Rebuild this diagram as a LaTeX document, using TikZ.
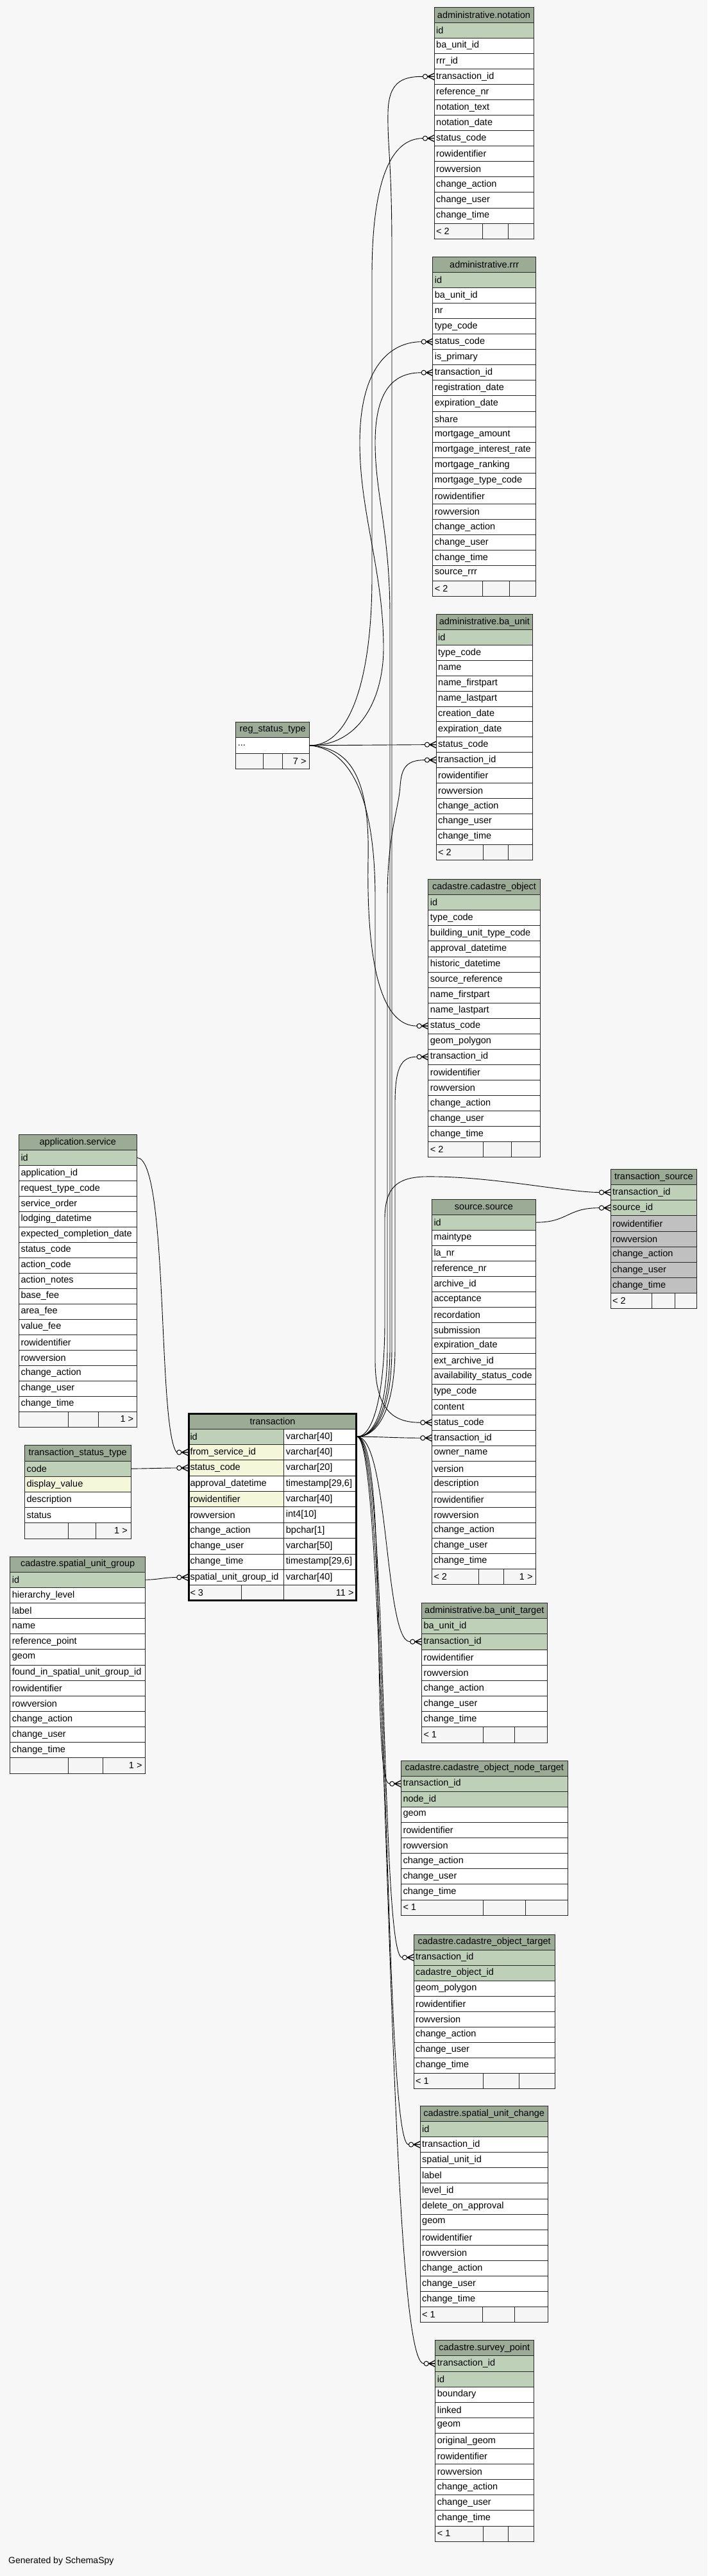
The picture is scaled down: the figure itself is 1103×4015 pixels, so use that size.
\documentclass[tikz,border=0pt]{standalone}
\usepackage{fontspec}
\setmainfont{Liberation Sans}
\definecolor{hd}{HTML}{9BAB96}
\definecolor{pk}{HTML}{BED1B8}
\definecolor{ix}{HTML}{F4F7DA}
\definecolor{ex}{HTML}{C0C0C0}
\definecolor{wt}{HTML}{FFFFFF}
\definecolor{bg}{HTML}{F7F7F7}
\definecolor{ft}{HTML}{F5F5F5}

% table head: name, left, top, width, row height, title
\newcommand\erdtable[6]{%
  \node[cell,fill=hd,minimum width=#4*1pt,minimum height=#5*1pt] (#1) at (#2,#3) {};
  \node (#1-title) at (#1.center) {#6};
  \xdef\erdn{#1}\xdef\erdx{#2}\xdef\erdy{#3}\xdef\erdw{#4}\xdef\erdh{#5}}
% column rows: text/fill
\newcommand\erdrows[1]{%
  \foreach \col/\kind [count=\i] in {#1}{%
    \node[cell,fill=\kind,minimum width=\erdw*1pt,minimum height=\erdh*1pt] (\erdn-\i) at (\erdx,\erdy+\i*\erdh) {};
    \node[txt] (\erdn-l\i) at (\erdn-\i.west) {\col};}}
% footer: row index, split 1, split 2, left text, right text
\newcommand\erdfoot[5]{%
  \draw[cellline,fill=ft] (\erdx,{\erdy+#1*\erdh}) rectangle (#2,{\erdy+(#1+1)*\erdh});
  \draw[cellline,fill=ft] (#2,{\erdy+#1*\erdh}) rectangle (#3,{\erdy+(#1+1)*\erdh});
  \draw[cellline,fill=ft] (#3,{\erdy+#1*\erdh}) rectangle ({\erdx+\erdw},{\erdy+(#1+1)*\erdh});
  \node[txt] (\erdn-fl) at (\erdx,{\erdy+(#1+.5)*\erdh}) {#4};
  \node[txt,anchor=east,inner xsep=5pt] (\erdn-fr) at ({\erdx+\erdw},{\erdy+(#1+.5)*\erdh}) {#5};}
% foreign key: parent anchor, child row, out, in
\newcommand\fk[4]{\draw[fkline] (#1) .. controls +(#3,0) and +(-#4,0) .. ([xshift=-18pt]#2.west); \pic at (#2.west) {crow};}

\begin{document}
\catcode`\_=12
\begin{tikzpicture}[x=1pt,y=-1pt,font=\fontsize{14.5}{17}\selectfont,
  cell/.style={draw=black!85,line width=0.8pt,anchor=north west,inner sep=0pt,outer sep=0pt},
  cellline/.style={draw=black!85,line width=0.8pt},
  txt/.style={anchor=west,inner xsep=3pt,inner ysep=0pt},
  fkline/.style={draw=black,line width=0.9pt},
  crow/.pic={\draw[line width=1.3pt] (-10,0) -- (0,-5) (-10,0) -- (0,5) (-18,0) -- (0,0);
    \draw[line width=1pt,fill=white] (-14,0) circle[radius=3.6pt];}]
\useasboundingbox (0,0) rectangle (1103,4015);
\fill[bg] (0,0) rectangle (1103,4015);

\erdtable{notation}{677}{11}{155}{24.07}{administrative.notation}
\erdrows{id/pk,ba_unit_id/wt,rrr_id/wt,transaction_id/wt,reference_nr/wt,notation_text/wt,notation_date/wt,status_code/wt,rowidentifier/wt,rowversion/wt,change_action/wt,change_user/wt,change_time/wt}
\erdfoot{14}{752}{792}{< 2}{}

\erdtable{rrr}{674.7}{400.4}{161}{24.05}{administrative.rrr}
\erdrows{id/pk,ba_unit_id/wt,nr/wt,type_code/wt,status_code/wt,is_primary/wt,transaction_id/wt,registration_date/wt,expiration_date/wt,share/wt,mortgage_amount/wt,mortgage_interest_rate/wt,mortgage_ranking/wt,mortgage_type_code/wt,rowidentifier/wt,rowversion/wt,change_action/wt,change_user/wt,change_time/wt,source_rrr/wt}
\erdfoot{21}{752.3}{794.3}{< 2}{}

\erdtable{baunit}{680}{957.5}{150.7}{23.9}{administrative.ba_unit}
\erdrows{id/pk,type_code/wt,name/wt,name_firstpart/wt,name_lastpart/wt,creation_date/wt,expiration_date/wt,status_code/wt,transaction_id/wt,rowidentifier/wt,rowversion/wt,change_action/wt,change_user/wt,change_time/wt}
\erdfoot{15}{753.3}{792.3}{< 2}{}

\erdtable{cadobj}{667.7}{1370.7}{174.6}{24.04}{cadastre.cadastre_object}
\erdrows{id/pk,type_code/wt,building_unit_type_code/wt,approval_datetime/wt,historic_datetime/wt,source_reference/wt,name_firstpart/wt,name_lastpart/wt,status_code/wt,geom_polygon/wt,transaction_id/wt,rowidentifier/wt,rowversion/wt,change_action/wt,change_user/wt,change_time/wt}
\erdfoot{17}{753}{797}{< 2}{}

\erdtable{regst}{367.7}{1125}{115}{24.55}{reg_status_type}
\erdrows{{.}{.}{.}/wt}
\erdfoot{2}{410.7}{440}{}{7 >}

\erdtable{service}{29.3}{1768.3}{184}{23.98}{application.service}
\erdrows{id/pk,application_id/wt,request_type_code/wt,service_order/wt,lodging_datetime/wt,expected_completion_date/wt,status_code/wt,action_code/wt,action_notes/wt,base_fee/wt,area_fee/wt,value_fee/wt,rowidentifier/wt,rowversion/wt,change_action/wt,change_user/wt,change_time/wt}
\erdfoot{18}{106.7}{153.3}{}{1 >}

\erdtable{tstatus}{38.3}{2252.8}{165.7}{24.2}{transaction_status_type}
\erdrows{code/pk,display_value/ix,description/wt,status/wt}
\erdfoot{5}{106.7}{149.3}{}{1 >}

\erdtable{sug}{15.7}{2426}{211}{24.14}{cadastre.spatial_unit_group}
\erdrows{id/pk,hierarchy_level/wt,label/wt,name/wt,reference_point/wt,geom/wt,found_in_spatial_unit_group_id/wt,rowidentifier/wt,rowversion/wt,change_action/wt,change_user/wt,change_time/wt}
\erdfoot{13}{106.7}{160}{}{1 >}

\erdtable{source}{673.3}{1869.2}{162.4}{24}{source.source}
\erdrows{id/pk,maintype/wt,la_nr/wt,reference_nr/wt,archive_id/wt,acceptance/wt,recordation/wt,submission/wt,expiration_date/wt,ext_archive_id/wt,availability_status_code/wt,type_code/wt,content/wt,status_code/wt,transaction_id/wt,owner_name/wt,version/wt,description/wt,rowidentifier/wt,rowversion/wt,change_action/wt,change_user/wt,change_time/wt}
\erdfoot{24}{746.7}{785.3}{< 2}{1 >}

\erdtable{tsource}{952}{1822.2}{134.7}{24.18}{transaction_source}
\erdrows{transaction_id/pk,source_id/pk,rowidentifier/ex,rowversion/ex,change_action/ex,change_user/ex,change_time/ex}
\erdfoot{8}{1016.7}{1052}{< 2}{}

\erdtable{but}{657.3}{2498.3}{196}{24.19}{administrative.ba_unit_target}
\erdrows{ba_unit_id/pk,transaction_id/pk,rowidentifier/wt,rowversion/wt,change_action/wt,change_user/wt,change_time/wt}
\erdfoot{8}{753.3}{802.7}{< 1}{}

\erdtable{cont}{625.3}{2744}{260}{24.1}{cadastre.cadastre_object_node_target}
\erdrows{transaction_id/pk,node_id/pk,geom/wt,rowidentifier/wt,rowversion/wt,change_action/wt,change_user/wt,change_time/wt}
\erdfoot{9}{753.3}{819}{< 1}{}

\erdtable{cot}{645}{3015}{220.3}{24}{cadastre.cadastre_object_target}
\erdrows{transaction_id/pk,cadastre_object_id/pk,geom_polygon/wt,rowidentifier/wt,rowversion/wt,change_action/wt,change_user/wt,change_time/wt}
\erdfoot{9}{753.3}{809.3}{< 1}{}

\erdtable{suc}{655}{3282.3}{199.3}{24.1}{cadastre.spatial_unit_change}
\erdrows{id/pk,transaction_id/wt,spatial_unit_id/wt,label/wt,level_id/wt,delete_on_approval/wt,geom/wt,rowidentifier/wt,rowversion/wt,change_action/wt,change_user/wt,change_time/wt}
\erdfoot{13}{752}{802.7}{< 1}{}

\erdtable{sp}{678.7}{3647.7}{153.3}{24.1}{cadastre.survey_point}
\erdrows{transaction_id/pk,id/pk,boundary/wt,linked/wt,geom/wt,original_geom/wt,rowidentifier/wt,rowversion/wt,change_action/wt,change_user/wt,change_time/wt}
\erdfoot{12}{753.3}{792}{< 1}{}

% transaction, two columns, thick frame
\erdtable{trans}{293.3}{2202.7}{263.4}{24.36}{transaction}
\foreach \col/\typ/\kind [count=\i] in {id/varchar[40]/pk,from_service_id/varchar[40]/ix,status_code/varchar[20]/ix,approval_datetime/timestamp[29{,}6]/wt,rowidentifier/varchar[40]/ix,rowversion/int4[10]/wt,change_action/bpchar[1]/wt,change_user/varchar[50]/wt,change_time/timestamp[29{,}6]/wt,spatial_unit_group_id/varchar[40]/wt}{
  \node[cell,fill=\kind,minimum width=149.4pt,minimum height=24.36pt] (trans-\i) at (293.3,2202.7+\i*24.36) {};
  \node[txt] (trans-l\i) at (trans-\i.west) {\col};
  \node[cell,fill=wt,minimum width=114pt,minimum height=24.36pt] (trans-t\i) at (442.7,2202.7+\i*24.36) {};
  \node[txt] (trans-lt\i) at (trans-t\i.west) {\typ};}
\erdfoot{11}{376}{442.7}{< 3}{11 >}
\draw[line width=2.5pt] (294.55,2203.95) rectangle (555.45,2493.75);

% status links
\draw[fkline] (regst-1.east) .. controls (545,1163) and (580,1060) .. (580,900) -- (580,430) .. controls (580,280) and (610,216) .. ([xshift=-18pt]notation-8.west);
\draw[fkline] (regst-1.east) .. controls (560,1163) and (598,1090) .. (598,1010) .. controls (598,890) and (561,800) .. (561,690) .. controls (561,570) and (610,533) .. ([xshift=-18pt]rrr-5.west);
\draw[fkline] (regst-1.east) -- ([xshift=-18pt]baunit-8.west);
\draw[fkline] (regst-1.east) .. controls (545,1165) and (577,1210) .. (574,1340) .. controls (571,1520) and (600,1599) .. ([xshift=-18pt]cadobj-9.west);
\draw[fkline] (regst-1.east) .. controls (550,1168) and (585,1250) .. (585,1400) -- (585,2120) .. controls (585,2200) and (615,2217) .. ([xshift=-18pt]source-14.west);
\foreach \r in {notation-8,rrr-5,baunit-8,cadobj-9,source-14} \pic at (\r.west) {crow};
% transaction links
\draw[fkline] (trans-t1.east) .. controls (590,2239) and (611,2190) .. (611,2100) -- (611,390) .. controls (611,250) and (604,230) .. (605,175) .. controls (606,130) and (625,119) .. ([xshift=-18pt]notation-4.west);
\draw[fkline] (trans-t1.east) .. controls (588,2239) and (608,2190) .. (608,2100) -- (608,960) .. controls (608,830) and (585,770) .. (585,690) .. controls (585,600) and (620,581) .. ([xshift=-18pt]rrr-7.west);
\draw[fkline] (trans-t1.east) .. controls (586,2239) and (604,2190) .. (604,2100) -- (604,1400) .. controls (604,1300) and (622,1260) .. (624,1225) .. controls (626,1195) and (635,1185) .. ([xshift=-18pt]baunit-9.west);
\draw[fkline] (trans-t1.east) .. controls (592,2239) and (616,2190) .. (616,2100) -- (616,1720) .. controls (616,1665) and (625,1647) .. ([xshift=-18pt]cadobj-11.west);
\foreach \r in {notation-4,rrr-7,baunit-9,cadobj-11} \pic at (\r.west) {crow};
\fk{trans-t1.east}{source-15}{40}{40}
\fk{trans-t1.east}{but-2}{50}{40}
\fk{trans-t1.east}{cont-1}{50}{30}
\fk{trans-t1.east}{cot-1}{50}{35}
\fk{trans-t1.east}{suc-2}{50}{40}
\fk{trans-t1.east}{sp-1}{50}{60}
\draw[fkline] (trans-t1.east) .. controls (585,2239) and (600,2160) .. (600,2060) -- (600,1900) .. controls (600,1850) and (620,1836) .. (660,1834) .. controls (760,1832) and (880,1858) .. ([xshift=-18pt]tsource-1.west);
\pic at (tsource-1.west) {crow};
\fk{source-1.east}{tsource-2}{50}{50}
% parents of transaction
\draw[fkline] (service-1.east) .. controls +(50,0) and +(-30,-40) .. ([xshift=-18pt]trans-2.west);
\pic at (trans-2.west) {crow};
\fk{tstatus-1.east}{trans-3}{20}{20}
\fk{sug-1.east}{trans-10}{20}{20}

\node[anchor=west,inner sep=0pt,font=\fontsize{14}{16}\selectfont] (gen) at (13,3992) {Generated by SchemaSpy};
\end{tikzpicture}
\end{document}
